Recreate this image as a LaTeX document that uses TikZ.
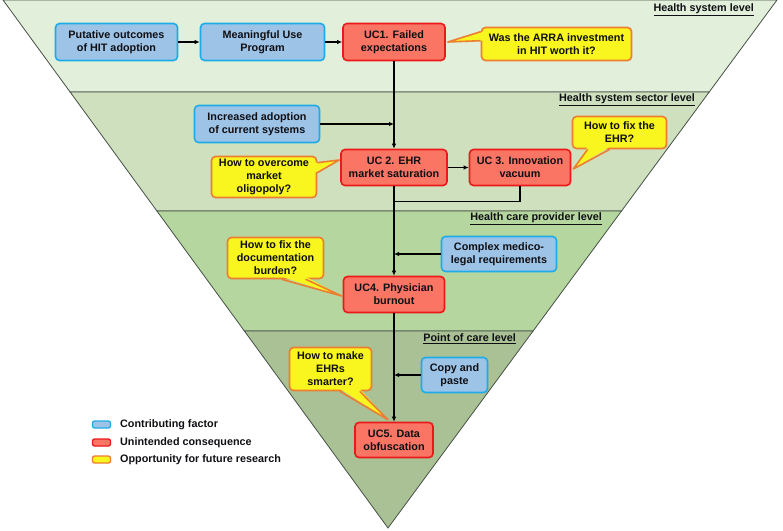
\documentclass[tikz,border=0pt]{standalone}
\usepackage{fontspec}
\setmainfont{Liberation Sans}
\usetikzlibrary{arrows.meta,calc}
\definecolor{bandA}{RGB}{226,239,218}
\definecolor{bandB}{RGB}{206,224,190}
\definecolor{bandC}{RGB}{181,214,158}
\definecolor{bandD}{RGB}{169,193,149}
\definecolor{bandline}{RGB}{70,80,70}
\definecolor{cfF}{RGB}{157,195,230}
\definecolor{cfB}{RGB}{30,172,232}
\definecolor{ucF}{RGB}{250,117,100}
\definecolor{ucB}{RGB}{235,25,25}
\definecolor{opF}{RGB}{248,246,30}
\definecolor{opB}{RGB}{237,125,49}
\definecolor{txt}{RGB}{15,15,20}
\newcommand{\calltail}[4]{%
  \fill[opF] ($#1+#4$) -- #3 -- ($#2+#4$) -- cycle;
  \draw[opB, line width=1.6pt, line join=round] #1 -- #3 -- #2;}
\begin{document}
\begin{tikzpicture}[x=1pt,y=-1pt,
  font=\fontsize{10.8}{13}\selectfont\bfseries,
  box/.style={rounded corners=4pt, line width=1.6pt, align=center, inner sep=0pt, text=txt},
  cf/.style={box, draw=cfB, fill=cfF},
  uc/.style={box, draw=ucB, fill=ucF},
  op/.style={box, draw=opB, fill=opF},
  arr/.style={line width=1.3pt, draw=black, -{Latex[length=5pt,width=4.5pt]}},
  ln/.style={line width=1.3pt, draw=black},
  lvl/.style={anchor=east, inner sep=0pt, text=txt},
  band/.style={draw=bandline, line width=0.8pt},
  swatch/.style={minimum width=18pt, minimum height=7pt, rounded corners=2pt, line width=1.3pt, inner sep=0pt},
  lgtext/.style={anchor=west, inner sep=0pt, text=txt}]
\useasboundingbox (0,0) rectangle (783,530);
% bands
\filldraw[band, fill=bandA] (3,0) -- (777,0) -- (709.2,92) -- (70.1,92) -- cycle;
\filldraw[band, fill=bandB] (70.1,92) -- (709.2,92) -- (621.5,211) -- (156.9,211) -- cycle;
\filldraw[band, fill=bandC] (156.9,211) -- (621.5,211) -- (533.1,331) -- (244.4,331) -- cycle;
\filldraw[band, fill=bandD] (244.4,331) -- (533.1,331) -- (388,528) -- cycle;
% level labels
\node[lvl] (l1) at (754,10) {\underline{Health system level}};
\node[lvl] (l2) at (695,100) {\underline{Health system sector level}};
\node[lvl] (l3) at (602,219) {\underline{Health care provider level}};
\node[lvl] (l4) at (516,339) {\underline{Point of care level}};
% nodes
\node[cf, minimum width=122pt, minimum height=37pt] (put) at (116.5,42) {Putative outcomes\\of HIT adoption};
\node[cf, minimum width=124pt, minimum height=37pt] (mu) at (262.5,42) {Meaningful Use\\Program};
\node[uc, minimum width=102pt, minimum height=37pt] (uc1) at (394,42) {UC1. Failed\\expectations};
\node[op, minimum width=150pt, minimum height=33pt] (q1) at (556.5,44) {Was the ARRA investment\\in HIT worth it?};
\node[cf, minimum width=125pt, minimum height=37pt] (inc) at (257,124) {Increased adoption\\of current systems};
\node[uc, minimum width=106pt, minimum height=36pt] (uc2) at (394,167.5) {UC 2. EHR\\market saturation};
\node[uc, minimum width=101pt, minimum height=36pt] (uc3) at (520,167.5) {UC 3. Innovation\\vacuum};
\node[op, minimum width=105pt, minimum height=41pt] (q2) at (264,177) {How to overcome\\market\\oligopoly?};
\node[op, minimum width=94pt, minimum height=32pt] (q3) at (619.5,132.5) {How to fix the\\EHR?};
\node[cf, minimum width=115pt, minimum height=35pt] (cmp) at (499,254) {Complex medico-\\legal requirements};
\node[uc, minimum width=101pt, minimum height=36pt] (uc4) at (394,294.5) {UC4. Physician\\burnout};
\node[op, minimum width=96pt, minimum height=41pt] (q4) at (275.5,258) {How to fix the\\documentation\\burden?};
\node[cf, minimum width=66pt, minimum height=35pt] (cp) at (454.5,375) {Copy and\\paste};
\node[uc, minimum width=78pt, minimum height=35pt] (uc5) at (394,440) {UC5. Data\\obfuscation};
\node[op, minimum width=82pt, minimum height=43pt] (q5) at (330.5,369) {How to make\\EHRs\\smarter?};
% callout tails
\coordinate (q1a) at ($(q1.north west)+(0,5)$);
\coordinate (q1b) at ($(q1.north west)+(0,14)$);
\coordinate (t1) at ($(uc1.east)+(2,0)$);
\calltail{(q1a)}{(q1b)}{(t1)}{(2.5,0)}
\coordinate (q2a) at ($(q2.north east)+(0,7)$);
\coordinate (q2b) at ($(q2.north east)+(0,17)$);
\coordinate (t2) at ($(uc2.west)+(-1,-7.5)$);
\calltail{(q2a)}{(q2b)}{(t2)}{(-2.5,0)}
\coordinate (q3a) at ($(q3.south west)+(16,0)$);
\coordinate (q3b) at ($(q3.south west)+(38,0)$);
\coordinate (t3) at ($(uc3.east)+(2,1.5)$);
\calltail{(q3a)}{(q3b)}{(t3)}{(0,-2.5)}
\coordinate (q4a) at ($(q4.south west)+(55,0)$);
\coordinate (q4b) at ($(q4.south west)+(79,0)$);
\coordinate (t4) at ($(uc4.west)+(-1,1.5)$);
\calltail{(q4a)}{(q4b)}{(t4)}{(0,-2.5)}
\coordinate (q5a) at ($(q5.south west)+(51,0)$);
\coordinate (q5b) at ($(q5.south west)+(71,0)$);
\coordinate (t5) at ($(uc5.north)+(-6,-2)$);
\calltail{(q5a)}{(q5b)}{(t5)}{(0,-2.5)}
% connectors
\draw[arr] (put.east) -- (mu.west);
\draw[arr] (mu.east) -- (uc1.west);
\draw[arr] (uc1.south) -- (uc2.north);
\coordinate (j1) at (uc1.south |- inc.east);
\draw[arr] (inc.east) -- (j1);
\draw[arr] (uc2.east) -- (uc3.west);
\coordinate (j2) at ($(uc2.south)+(0,15)$);
\draw[ln] (uc3.south) |- (j2);
\draw[arr] (uc2.south) -- (uc4.north);
\coordinate (j3) at (uc4.north |- cmp.west);
\draw[arr] (cmp.west) -- (j3);
\draw[arr] (uc4.south) -- (uc5.north);
\coordinate (j4) at (uc5.north |- cp.west);
\draw[arr] (cp.west) -- (j4);
% legend
\node[swatch, draw=cfB, fill=cfF] (s1) at (101.5,424.5) {};
\node[swatch, draw=ucB, fill=ucF] (s2) at (101.5,442.5) {};
\node[swatch, draw=opB, fill=opF] (s3) at (101.5,459.5) {};
\node[lgtext] (g1) at (120,424.5) {Contributing factor};
\node[lgtext] (g2) at (120,442.5) {Unintended consequence};
\node[lgtext] (g3) at (120,459.5) {Opportunity for future research};
\end{tikzpicture}
\end{document}
